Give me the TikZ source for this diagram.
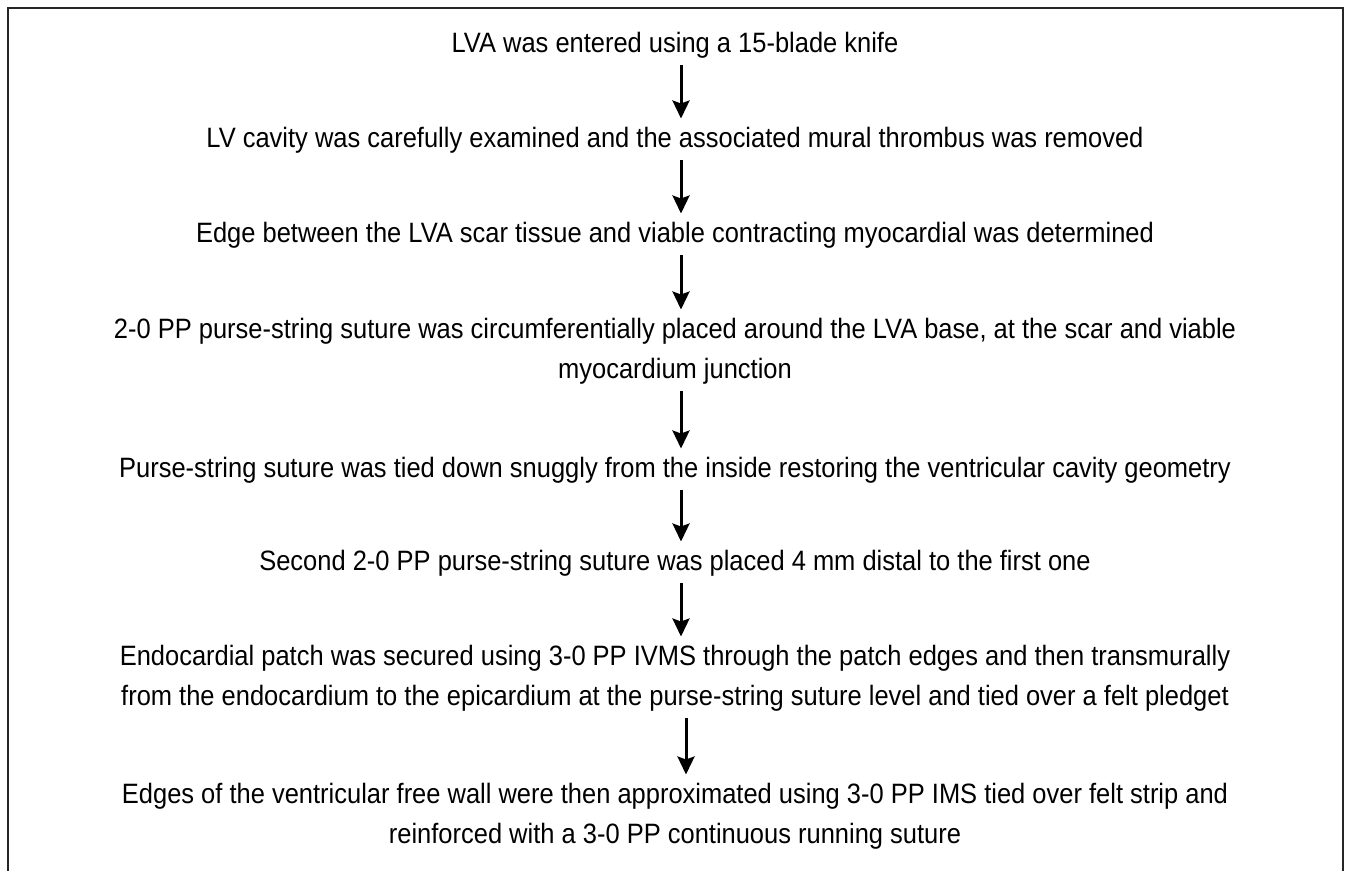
\documentclass[tikz,border=0pt]{standalone}
\usepackage{fontspec}
\setmainfont{Liberation Sans}[FakeStretch=0.91]
\usepackage{tikz}
\usetikzlibrary{arrows.meta,positioning}

\begin{document}
\begin{tikzpicture}
		[x=1pt,y=-1pt,
		paso/.style={inner sep=0pt,align=center,anchor=base,
			font=\fontsize{28}{40}\selectfont},
		flecha/.style={-{Stealth[length=18pt,width=17pt,inset=3pt]},line width=3pt,
			shorten <=7pt,shorten >=8pt},
		marco/.style={black!85,line width=2pt}]
		\useasboundingbox (0,0) rectangle (1345,871);
		%---------------------marco------------
		\draw[marco] (8,871) -- (8,8) -- (1343,8) -- (1343,871);
		%---------------------pasos------------
		\node[paso] (p1) at (675,52) {LVA was entered using a 15-blade knife};
		\node[paso] (p2) at (675,147) {LV cavity was carefully examined and the associated mural thrombus was removed};
		\node[paso] (p3) at (675,242) {Edge between the LVA scar tissue and viable contracting myocardial was determined};
		\node[paso] (p4) at (675,378) {2-0 PP purse-string suture was circumferentially placed around the LVA base, at the scar and viable\\ myocardium junction};
		\node[paso] (p5) at (675,477) {Purse-string suture was tied down snuggly from the inside restoring the ventricular cavity geometry};
		\node[paso] (p6) at (675,570) {Second 2-0 PP purse-string suture was placed 4 mm distal to the first one};
		\node[paso] (p7) at (675,705) {Endocardial patch was secured using 3-0 PP IVMS through the patch edges and then transmurally\\ from the endocardium to the epicardium at the purse-string suture level and tied over a felt pledget};
		\node[paso] (p8) at (675,843) {Edges of the ventricular free wall were then approximated using 3-0 PP IMS tied over felt strip and\\ reinforced with a 3-0 PP continuous running suture};
		%---------------------flechas------------
		\draw[flecha] ([xshift=6pt]p1.south) -- ([xshift=6pt]p2.north);
		\draw[flecha] ([xshift=6pt]p2.south) -- ([xshift=6pt]p3.north);
		\draw[flecha] ([xshift=6pt]p3.south) -- ([xshift=6pt]p4.north);
		\draw[flecha] ([xshift=6pt]p4.south) -- ([xshift=6pt]p5.north);
		\draw[flecha] ([xshift=6pt]p5.south) -- ([xshift=6pt]p6.north);
		\draw[flecha] ([xshift=6pt]p6.south) -- ([xshift=6pt]p7.north);
		\draw[flecha] ([xshift=11pt]p7.south) -- ([xshift=11pt]p8.north);
\end{tikzpicture}
\end{document}
